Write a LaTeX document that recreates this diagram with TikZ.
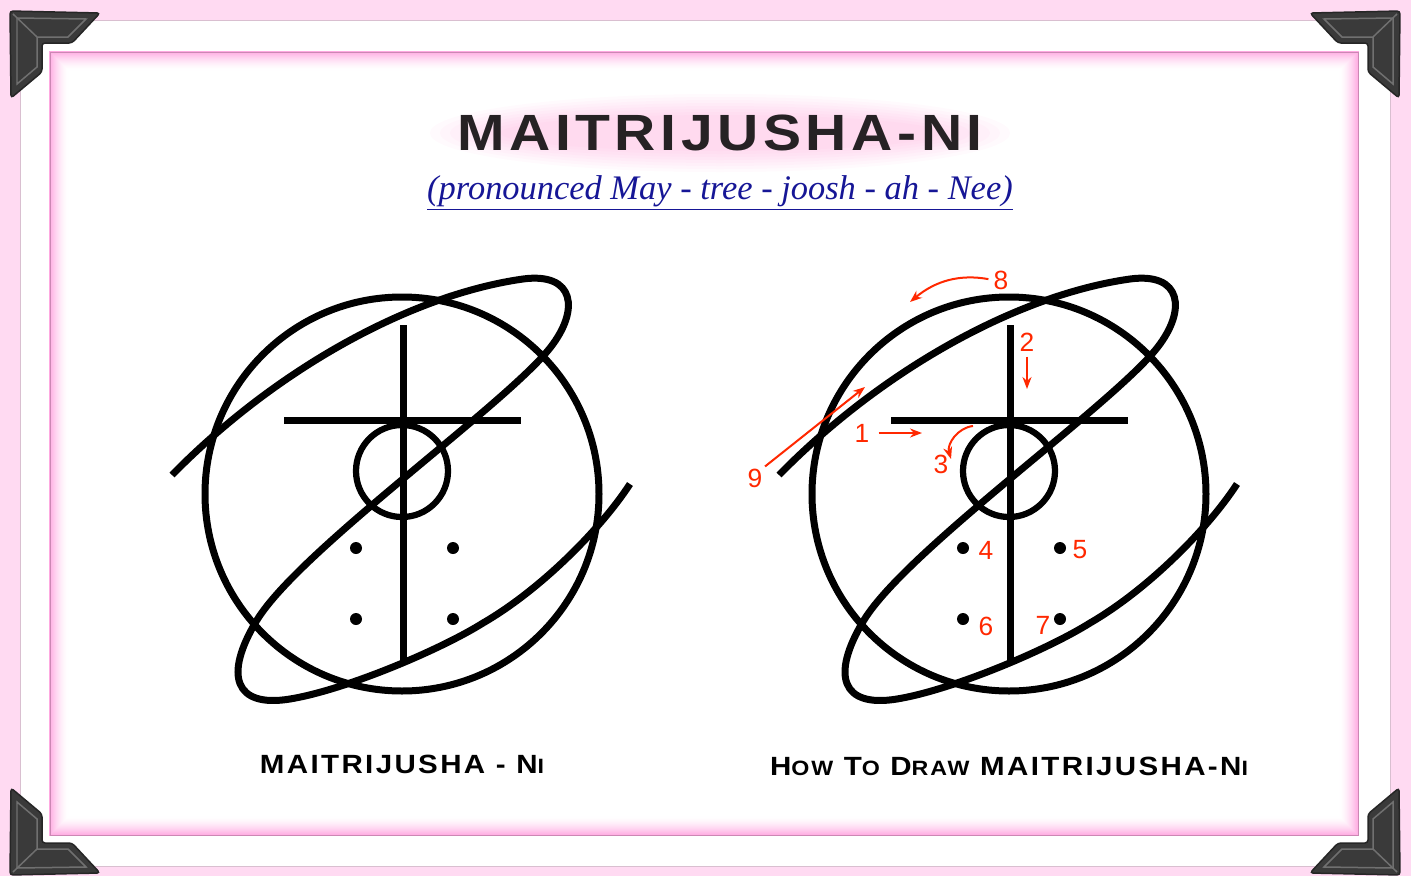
\documentclass[tikz,border=0pt]{standalone}
\usepackage{fontspec}
\usetikzlibrary{arrows.meta, positioning, calc}
\setmainfont{Liberation Serif}
\newfontfamily\copperfont[FakeStretch=1.12, LetterSpace=9]{Liberation Sans}
\newfontfamily\numfont{Liberation Sans}
\definecolor{framepink}{RGB}{255, 218, 242}
\definecolor{glowpink}{RGB}{255, 140, 215}
\definecolor{cornergray}{RGB}{58, 58, 58}
\definecolor{bevelgray}{RGB}{112, 112, 112}
\definecolor{navyline}{RGB}{22, 22, 150}
\definecolor{stepred}{RGB}{255, 40, 0}
\definecolor{titleink}{RGB}{38, 34, 36}
\newcommand{\capsm}[1]{{\fontsize{11.8}{11.8}\selectfont #1}}
\tikzset{
  glyph/.style       = {line width=0.14cm, black},
  glyphthin/.style   = {line width=0.125cm, black},
  dotmark/.style     = {fill=black},
  redarr/.style      = {-{Stealth[length=0.24cm, width=0.18cm]}, stepred, line width=0.04cm},
  numlbl/.style      = {text=stepred, font=\numfont\fontsize{15}{15}\selectfont, inner sep=0pt},
  capstyle/.style    = {font=\copperfont\bfseries\fontsize{15}{15}\selectfont, text=black},
  cornerpiece/.style = {fill=cornergray, draw=black!85, line width=0.03cm, rounded corners=0.06cm},
}

\begin{document}
\begin{tikzpicture}[x=0.02cm, y=-0.02cm]

% ===================== frame =====================
\fill[framepink] (0,0) rectangle (1411,876);
\useasboundingbox (0,0) rectangle (1411,876);
\fill[white] (20,20) rectangle (1390,866);
\draw[framepink!70!gray, line width=0.02cm] (20,20) rectangle (1390,866);

% inner panel glow
\foreach \i in {0,...,18}{
    \pgfmathsetmacro\op{75*(1-\i/19)^1.6}
    \draw[glowpink!\op!white, line width=0.03cm] (50+\i,52+\i) rectangle (1358-\i,835-\i);
}
\draw[glowpink!60!gray, line width=0.02cm] (50,52) rectangle (1358,835);

% corner pieces
\foreach \sx/\sy in {1/1, -1/1, 1/-1, -1/-1}{
    \begin{scope}[shift={(705,443)}, xscale=\sx, yscale=\sy, shift={(-705,-443)}]
        \draw[cornerpiece] (10,11) -- (100,13) -- (72,43) -- (42,43) -- (42,72) -- (11,98) -- cycle;
        \draw[bevelgray, line width=0.03cm] (17,18) -- (86,19) -- (68,37) -- (37,37) -- (37,67) -- (17,84) -- cycle;
        \draw[bevelgray, line width=0.03cm] (13,14) -- (37,37);
    \end{scope}
}

% ===================== title (y = 133) =====================
\foreach \k in {1,...,8}{
    \fill[glowpink, opacity=0.045] (720,133) ellipse [x radius=300-\k*10, y radius=42-\k*3];
}
\node[font=\copperfont\bfseries\fontsize{29}{29}\selectfont, text=titleink] (title) at (720,133) {MAITRIJUSHA-NI};
\node[font=\itshape\fontsize{19.6}{19.6}\selectfont, text=navyline] (subtitle) at (720,193)
    {\underline{(pronounced May - tree - joosh - ah - Nee)}};

% ===================== symbols (left, and right shifted by 607) =====================
\foreach \dx in {0,607}{
    \begin{scope}[shift={(\dx,0)}]
        \draw[glyph] (402,494) circle [radius=197];
        \draw[glyphthin] (402,471) circle [radius=46];
        \draw[glyph] (403,325) -- (403,662);
        \draw[glyph] (284,420) -- (521,420);
        \foreach \px/\py in {356/548, 453/548, 356/619, 453/619}{
            \fill[dotmark] (\px,\py) circle [radius=6];
        }
        % one stroke: upper line, top loop, middle line, bottom loop, lower line
        \draw[glyph] (172,475) .. controls (275,370) and (410,295) .. (523,279)
                     .. controls (575,272) and (580,310) .. (550,348)
                     .. controls (505,405) and (300,550) .. (257,620)
                     .. controls (223,676) and (235,708) .. (290,699)
                     .. controls (345,690) and (440,650) .. (483,623)
                     .. controls (540,590) and (600,530) .. (630,484);
    \end{scope}
}

% ===================== stroke order =====================
\node[numlbl] (n1) at (862,433) {1};
\node[numlbl] (n2) at (1027,342) {2};
\node[numlbl] (n3) at (941,464) {3};
\node[numlbl] (n4) at (986,550) {4};
\node[numlbl] (n5) at (1080,550) {5};
\node[numlbl] (n6) at (986,626) {6};
\node[numlbl] (n7) at (1043,625) {7};
\node[numlbl] (n8) at (1001,280) {8};
\node[numlbl] (n9) at (755,478) {9};

\coordinate (a1) at (922,433);
\coordinate (a2) at (1027,389);
\coordinate (s3) at (973,426);
\coordinate (a3) at (951,459);
\coordinate (a8) at (910,302);
\coordinate (a9) at (865,387);

\draw[redarr, shorten <=0.18cm] (n1.east) -- (a1);
\draw[redarr, shorten <=0.1cm] (n2.south) -- (a2);
\draw[redarr] (s3) to[bend right=50] (a3);
\draw[redarr, shorten <=0.1cm] (n8.west) to[bend right=25] (a8);
\draw[redarr, shorten <=0.06cm] (n9.north east) -- (a9);

% ===================== captions =====================
\node[capstyle] (capL) at (402,764) {MAITRIJUSHA - N\capsm{I}};
\node[capstyle] (capR) at (1009,766) {H\capsm{OW} T\capsm{O} D\capsm{RAW} MAITRIJUSHA-N\capsm{I}};

\end{tikzpicture}
\end{document}
